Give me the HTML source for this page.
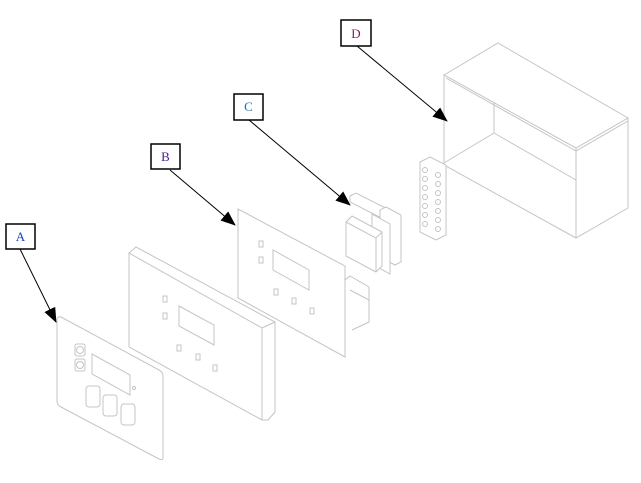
<!DOCTYPE html>
<html><head><meta charset="utf-8"><style>
html,body{margin:0;padding:0;background:#fff;width:641px;height:483px;overflow:hidden}
svg{display:block}
.l{fill:none;stroke:#c4c4c4;stroke-width:1}
.lb{fill:#fff;stroke:#c4c4c4;stroke-width:1}
.box{fill:#fff;stroke:#000;stroke-width:1.5}
.t{font-family:"Liberation Serif",serif;font-size:13px}
</style></head><body>
<svg width="641" height="483" viewBox="0 0 641 483" xmlns="http://www.w3.org/2000/svg">
<defs><marker id="ar" markerWidth="15" markerHeight="12" refX="14" refY="6" orient="auto" markerUnits="userSpaceOnUse"><path d="M0,0 L15,6 L0,12 z" fill="#000"/></marker></defs>

<!-- Enclosure D -->
<polygon class="lb" points="444,75 498,43 628,118 576,148"/>
<polyline class="l" points="444,75 444,165 576,238 628,208 628,118"/>
<line class="l" x1="576" y1="148" x2="576" y2="238"/>
<line class="l" x1="494" y1="103" x2="494" y2="133"/>
<line class="l" x1="444" y1="163" x2="494" y2="133"/>
<line class="l" x1="494" y1="133" x2="576" y2="180"/>
<line class="l" x1="446" y1="78" x2="576" y2="151"/>
<line class="l" x1="576" y1="151" x2="628" y2="121"/>

<!-- terminal block -->
<g>
<polygon class="lb" points="420,162 430,157 446,165 446,235 436,240 420,232"/>
<g class="l">
<circle cx="425" cy="170" r="2.5"/><circle cx="438" cy="175" r="2.5"/>
<circle cx="425" cy="179" r="2.5"/><circle cx="438" cy="184" r="2.5"/>
<circle cx="425" cy="188" r="2.5"/><circle cx="438" cy="193" r="2.5"/>
<circle cx="425" cy="197" r="2.5"/><circle cx="438" cy="202" r="2.5"/>
<circle cx="425" cy="206" r="2.5"/><circle cx="438" cy="211" r="2.5"/>
<circle cx="425" cy="215" r="2.5"/><circle cx="438" cy="220" r="2.5"/>
<circle cx="425" cy="224" r="2.5"/><circle cx="438" cy="229" r="2.5"/>
</g></g>

<!-- C component -->
<polygon class="lb" points="350,196 356,193 401,216 401,222 395,225 350,202"/>
<polygon class="lb" points="380,210 386,207 401,215 401,262 395,265 380,257"/>
<polygon class="lb" points="372,214 390,224 390,274 372,264"/>
<polygon class="lb" points="346,222 352,216 382,232 382,266 376,272 346,256"/>
<polyline class="l" points="346,222 376,238 376,272"/>
<line class="l" x1="376" y1="238" x2="382" y2="232"/>

<!-- PCB B -->
<polyline class="l" points="345,280 350,276 369,287 369,322 352,330"/>
<line class="l" x1="350" y1="290" x2="369" y2="300"/>
<polygon class="lb" points="238,209 345,266 345,357 238,298"/>
<polygon class="l" points="273,250 309,270 309,290 273,270"/>
<g class="l">
<rect x="259" y="241" width="4" height="6"/><rect x="259" y="257" width="4" height="6"/>
<rect x="274" y="289" width="4" height="6"/><rect x="292" y="298" width="4" height="6"/>
<rect x="310" y="308" width="4" height="6"/>
</g>

<!-- Bezel -->
<polygon class="lb" points="129,253 136,247 275,322 275,412 268,420 262,420 129,347"/>
<polyline class="l" points="129,253 262,328 262,420"/>
<line class="l" x1="262" y1="328" x2="275" y2="322"/>
<polygon class="l" points="179,306 214,325 214,345 179,326"/>
<g class="l">
<rect x="163" y="296" width="4" height="6"/><rect x="163" y="313" width="4" height="6"/>
<rect x="177" y="345" width="4" height="6"/><rect x="196" y="354" width="4" height="6"/>
<rect x="213" y="365" width="4" height="6"/>
</g>

<!-- Front plate A -->
<path class="lb" d="M57,320 Q57,316 61,317 L159,370 Q163,372 163,376 L163,457 Q163,461 159,459 L61,407 Q57,405 57,401 Z"/>
<g class="l">
<rect x="75" y="344" width="10" height="12" rx="2"/><circle cx="80" cy="350" r="3.5"/>
<rect x="75" y="359" width="10" height="12" rx="2"/><circle cx="80" cy="365" r="3.5"/>
<polygon points="92,354 130,375 130,395 92,374"/>
<circle cx="134" cy="388" r="1.5"/>
<rect x="86" y="386" width="14" height="21" rx="3"/>
<rect x="103" y="395" width="14" height="21" rx="3"/>
<rect x="121" y="404" width="14" height="21" rx="3"/>
</g>

<!-- Callouts -->
<g stroke="#000" stroke-width="1">
<line x1="20" y1="249" x2="56" y2="322" marker-end="url(#ar)"/>
<line x1="170" y1="170" x2="235" y2="225" marker-end="url(#ar)"/>
<line x1="249" y1="120" x2="350" y2="205" marker-end="url(#ar)"/>
<line x1="357" y1="46" x2="447" y2="121" marker-end="url(#ar)"/>
</g>
<rect class="box" x="6" y="224" width="29" height="25"/>
<text class="t" x="20.5" y="241" text-anchor="middle" fill="#1a3fbf">A</text>
<rect class="box" x="151" y="144" width="29" height="25"/>
<text class="t" x="165.5" y="161" text-anchor="middle" fill="#4a1a8a">B</text>
<rect class="box" x="234" y="94" width="29" height="26"/>
<text class="t" x="248.5" y="111" text-anchor="middle" fill="#1a6fbf">C</text>
<rect class="box" x="341" y="20" width="30" height="26"/>
<text class="t" x="356" y="38" text-anchor="middle" fill="#8a1a6a">D</text>
</svg>
</body></html>
